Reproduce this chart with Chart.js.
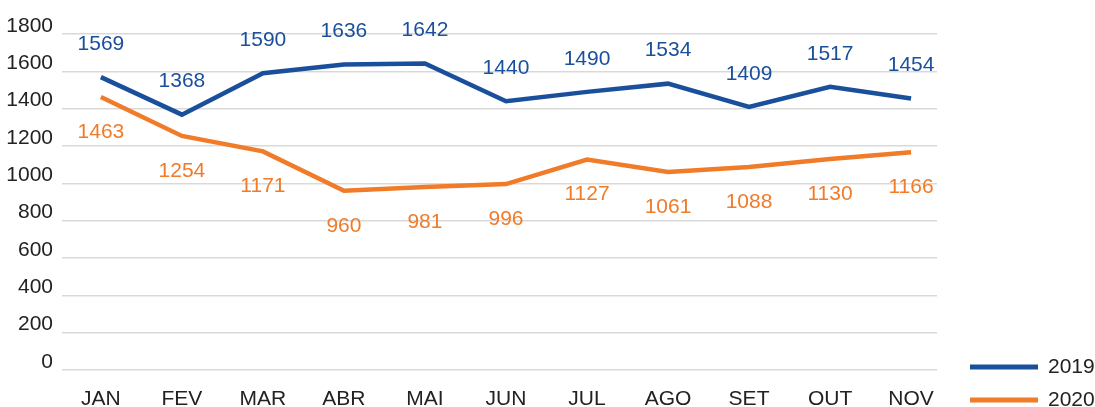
<!DOCTYPE html>
<html>
<head>
<meta charset="utf-8">
<script src="https://cdn.jsdelivr.net/npm/chart.js@4"></script>
<style>
  html, body { margin: 0; padding: 0; background: #fff; }
  #wrap { width: 1095px; height: 407px; }
</style>
</head>
<body>
<div id="wrap"><canvas id="chart" width="1095" height="407"></canvas></div>
<script>
// months on the x axis
const months = ["JAN", "FEV", "MAR", "ABR", "MAI", "JUN", "JUL", "AGO", "SET", "OUT", "NOV"];

// series values
const values2019 = [1569, 1368, 1590, 1636, 1642, 1440, 1490, 1534, 1409, 1517, 1454];
const values2020 = [1463, 1254, 1171, 960, 981, 996, 1127, 1061, 1088, 1130, 1166];

const seriesNames = ["2019", "2020"];
const yTicks = [0, 200, 400, 600, 800, 1000, 1200, 1400, 1600, 1800];

const BLUE = "#1a4f9c";
const ORANGE = "#f07b28";
const FONT = "'Liberation Sans', Arial, sans-serif";
const FSIZE = 21;

// value labels above (2019) / below (2020) each point
const valueLabels = {
	id: "valueLabels",
	afterDatasetsDraw(chart) {
		const ctx = chart.ctx;
		ctx.save();
		ctx.font = FSIZE + "px " + FONT;
		ctx.textAlign = "center";
		ctx.textBaseline = "middle";
		chart.data.datasets.forEach((ds, i) => {
			const meta = chart.getDatasetMeta(i);
			const off = i === 0 ? -33 : 35;
			ctx.fillStyle = ds.borderColor;
			meta.data.forEach((pt, j) => {
				ctx.fillText(String(ds.data[j].y), pt.x, pt.y + off);
			});
		});
		ctx.restore();
	}
};

// legend in the bottom right corner
const cornerLegend = {
	id: "cornerLegend",
	afterDraw(chart) {
		const ctx = chart.ctx;
		ctx.save();
		ctx.font = FSIZE + "px " + FONT;
		ctx.textBaseline = "middle";
		ctx.textAlign = "left";
		chart.data.datasets.forEach((ds, i) => {
			const y = 367 + i * 33;
			ctx.strokeStyle = ds.borderColor;
			ctx.lineWidth = 5;
			ctx.beginPath();
			ctx.moveTo(970, y);
			ctx.lineTo(1038, y);
			ctx.stroke();
			ctx.fillStyle = "#222";
			ctx.fillText(ds.label, 1048, y);
		});
		ctx.restore();
	}
};

const toPoints = arr => arr.map((v, i) => ({ x: i, y: v }));

new Chart(document.getElementById("chart"), {
	type: "line",
	data: {
		datasets: [
			{
				label: seriesNames[0],
				data: toPoints(values2019),
				borderColor: BLUE,
				backgroundColor: BLUE,
				borderWidth: 4.5,
				pointRadius: 0,
				tension: 0
			},
			{
				label: seriesNames[1],
				data: toPoints(values2020),
				borderColor: ORANGE,
				backgroundColor: ORANGE,
				borderWidth: 4.5,
				pointRadius: 0,
				tension: 0
			}
		]
	},
	options: {
		responsive: false,
		animation: false,
		layout: { padding: { top: 34, right: 158, left: 0, bottom: 0 } },
		plugins: {
			legend: { display: false },
			tooltip: { enabled: false }
		},
		scales: {
			x: {
				type: "linear",
				min: -0.48,
				max: 10.32,
				afterBuildTicks: axis => { axis.ticks = months.map((m, i) => ({ value: i })); },
				afterFit: axis => { axis.height = 37; },
				grid: { display: false, drawTicks: false },
				border: { display: false },
				ticks: {
					padding: 17,
					color: "#222",
					font: { family: FONT, size: FSIZE },
					maxRotation: 0,
					autoSkip: false,
					callback: v => months[v]
				}
			},
			y: {
				min: 0,
				max: 1800,
				afterBuildTicks: axis => { axis.ticks = yTicks.map(v => ({ value: v })); },
				afterFit: axis => { axis.width = 62; },
				grid: { color: "#d9d9d9", lineWidth: 1.5, drawTicks: false },
				border: { display: false },
				ticks: {
					padding: 9,
					labelOffset: -8,
					color: "#222",
					font: { family: FONT, size: FSIZE },
					callback: v => String(v)
				}
			}
		}
	},
	plugins: [valueLabels, cornerLegend]
});
</script>
</body>
</html>
